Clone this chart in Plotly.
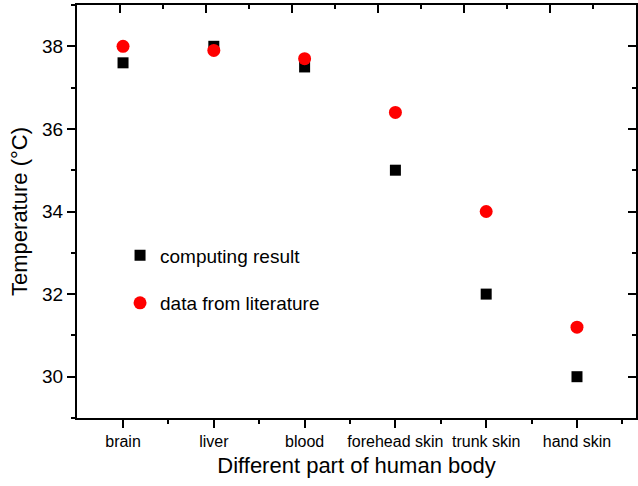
import plotly.graph_objects as go

# Body sites and temperatures (°C)
parts = ["brain", "liver", "blood", "forehead skin", "trunk skin", "hand skin"]
computing_result = [37.6, 38.0, 37.5, 35.0, 32.0, 30.0]
literature_data = [38.0, 37.9, 37.7, 36.4, 34.0, 31.2]
y_major = [30, 32, 34, 36, 38]
y_minor = [29, 31, 33, 35, 37, 39]
top_major = [1, 2, 3, 4, 5, 6]
top_minor = [1.5, 2.5, 3.5, 4.5, 5.5, 6.5]

pos = list(range(len(parts)))
FONT = "Liberation Sans, Arial, sans-serif"

fig = go.Figure()
fig.add_trace(go.Scatter(
    x=pos, y=computing_result, mode="markers", name="computing result",
    legendgroup="a",
    marker=dict(symbol="square", size=11, color="black"),
))
fig.add_trace(go.Scatter(
    x=pos, y=literature_data, mode="markers", name="data from literature",
    legendgroup="b",
    marker=dict(symbol="circle", size=13, color="red"),
))
# empty trace so the top/right frame axes get their own subplot
fig.add_trace(go.Scatter(
    x=[], y=[], xaxis="x2", yaxis="y2", showlegend=False, hoverinfo="skip",
))

axis_line = dict(showline=True, linecolor="black", linewidth=2, showgrid=False,
                 zeroline=False, tickcolor="black", tickwidth=2)

fig.update_layout(
    width=638, height=486,
    margin=dict(l=77, r=2, t=5, b=68),
    paper_bgcolor="white", plot_bgcolor="white",
    font=dict(family=FONT, color="black"),
    xaxis=dict(
        **axis_line, range=[-0.507, 5.65],
        tickmode="array", tickvals=pos, ticktext=parts,
        ticks="outside", ticklen=8,
        tickfont=dict(size=16),
        minor=dict(tickmode="array", tickvals=[p + 0.5 for p in pos],
                   ticks="outside", ticklen=4, tickwidth=2, tickcolor="black"),
        title=dict(text="Different part of human body", font=dict(size=22), standoff=8),
    ),
    yaxis=dict(
        **axis_line, range=[29, 39],
        tickmode="array", tickvals=y_major,
        ticks="outside", ticklen=8,
        tickfont=dict(size=19),
        minor=dict(tickmode="array", tickvals=y_minor,
                   ticks="outside", ticklen=4, tickwidth=2, tickcolor="black"),
        title=dict(text="Temperature (°C)", font=dict(size=22), standoff=8),
    ),
    xaxis2=dict(
        **axis_line, overlaying="x", side="top", anchor="y2", range=[0.5, 7],
        tickmode="array", tickvals=top_major, showticklabels=False,
        ticks="inside", ticklen=8,
        minor=dict(tickmode="array", tickvals=top_minor,
                   ticks="inside", ticklen=4, tickwidth=2, tickcolor="black"),
    ),
    yaxis2=dict(
        **axis_line, overlaying="y", side="right", anchor="x2", range=[29, 39],
        tickmode="array", tickvals=y_major, showticklabels=False,
        ticks="inside", ticklen=8,
        minor=dict(tickmode="array", tickvals=y_minor,
                   ticks="inside", ticklen=4, tickwidth=2, tickcolor="black"),
    ),
    legend=dict(
        x=0.077, y=0.44, xanchor="left", yanchor="top",
        bgcolor="rgba(0,0,0,0)", font=dict(size=19),
        traceorder="grouped", tracegroupgap=20, itemwidth=30,
    ),
    showlegend=True,
)

fig.write_html("out.html")
